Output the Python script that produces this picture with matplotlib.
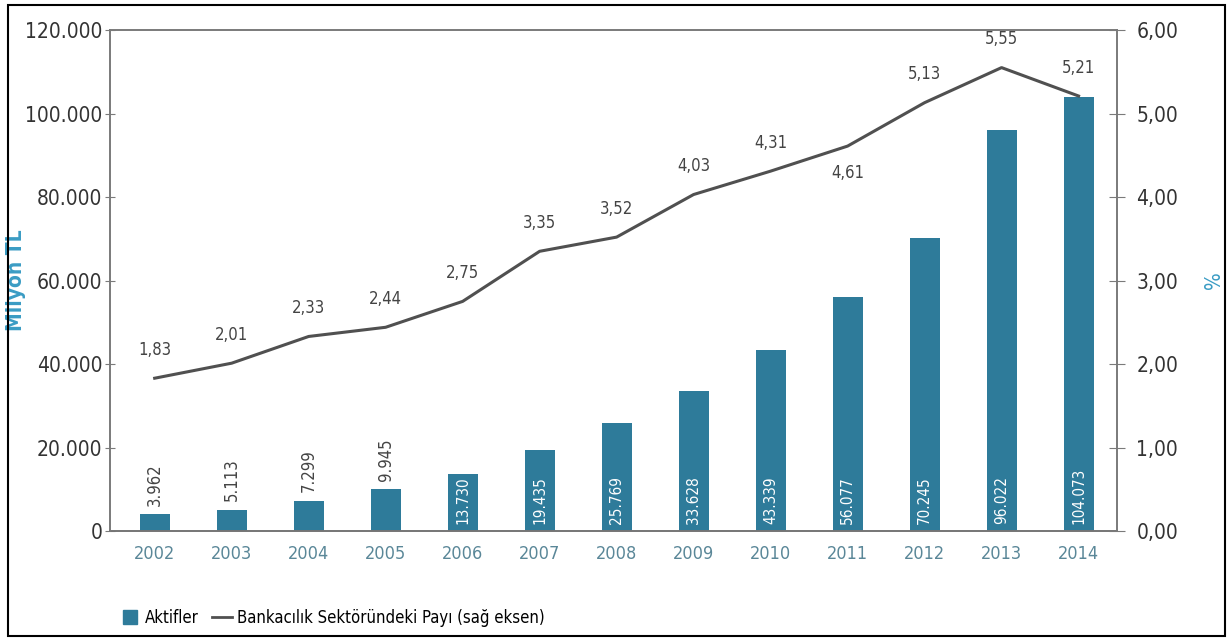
import matplotlib.pyplot as plt
from matplotlib.patches import Rectangle
from matplotlib.lines import Line2D
from matplotlib.ticker import FuncFormatter

# Aktifler (milyon TL) ve bankacılık sektöründeki payı (%)
YEARS = ['2002', '2003', '2004', '2005', '2006', '2007', '2008',
         '2009', '2010', '2011', '2012', '2013', '2014']
ASSETS = [3962, 5113, 7299, 9945, 13730, 19435, 25769,
          33628, 43339, 56077, 70245, 96022, 104073]
SHARE = [1.83, 2.01, 2.33, 2.44, 2.75, 3.35, 3.52,
         4.03, 4.31, 4.61, 5.13, 5.55, 5.21]

BAR_COLOR = '#2e7b9a'
LINE_COLOR = '#505050'
AXIS_COLOR = '#7a7a7a'
LABEL_BLUE = '#3a9cc4'
YEAR_COLOR = '#5a8798'

plt.rcParams['font.family'] = ['DejaVu Sans']
plt.rcParams['font.stretch'] = 'condensed'


def tr_thousands(v, pos=None):
    # 120000 -> 120.000
    return f"{int(v):,}".replace(',', '.')


def tr_decimal(v, pos=None):
    return f"{v:.2f}".replace('.', ',')


fig = plt.figure(figsize=(12.32, 6.39), dpi=100)
ax = fig.add_axes([0.0893, 0.169, 0.8174, 0.784])
ax2 = ax.twinx()

x = list(range(len(YEARS)))
ax.bar(x, ASSETS, width=0.39, color=BAR_COLOR, zorder=2)

ax.set_xlim(-0.58, 12.5)
ax.set_ylim(0, 120000)
ax.set_yticks(range(0, 120001, 20000))
ax.yaxis.set_major_formatter(FuncFormatter(tr_thousands))
ax.set_xticks(x)
ax.set_xticklabels(YEARS)

ax2.set_ylim(0, 6)
ax2.set_yticks([0, 1, 2, 3, 4, 5, 6])
ax2.yaxis.set_major_formatter(FuncFormatter(tr_decimal))

for a in (ax, ax2):
    for s in a.spines.values():
        s.set_color(AXIS_COLOR)
        s.set_linewidth(1.2)
ax.spines['bottom'].set_color('#555555')

ax.tick_params(axis='y', direction='inout', length=7, color=AXIS_COLOR,
               labelsize=15, labelcolor='#333333', pad=2)
ax2.tick_params(axis='y', direction='inout', length=12, color=AXIS_COLOR,
                labelsize=15, labelcolor='#333333', pad=8)
ax.tick_params(axis='x', length=0, labelsize=13, labelcolor=YEAR_COLOR, pad=10)

ax.set_ylabel('Milyon TL', color=LABEL_BLUE, fontsize=15, fontweight='bold')
ax.yaxis.set_label_coords(-0.083, 0.5)
ax2.set_ylabel('%', color=LABEL_BLUE, fontsize=15)
ax2.yaxis.set_label_coords(1.086, 0.5)

# Sektör payı çizgisi
ax2.plot(x, SHARE, color=LINE_COLOR, linewidth=2.2, zorder=3)
for xi, v in zip(x, SHARE):
    dy = -26 if YEARS[xi] == '2011' else 14
    ax2.annotate(tr_decimal(v), (xi, v), xytext=(0, dy),
                 textcoords='offset points', ha='center', va='bottom',
                 fontsize=12, color='#444444')

# Sütun değerleri: küçük sütunlarda üstte, diğerlerinde sütun içinde
for xi, v in zip(x, ASSETS):
    label = tr_thousands(v)
    if v < 12000:
        ax.annotate(label, (xi, v), xytext=(0, 6), textcoords='offset points',
                    ha='center', va='bottom', rotation=90,
                    fontsize=12, color='#444444')
    else:
        ax.annotate(label, (xi, 0), xytext=(0, 5), textcoords='offset points',
                    ha='center', va='bottom', rotation=90,
                    fontsize=11, color='white')

# Açıklama
handles = [
    Line2D([], [], marker='s', linestyle='none', markersize=10,
           markerfacecolor=BAR_COLOR, markeredgecolor=BAR_COLOR),
    Line2D([], [], color=LINE_COLOR, linewidth=2),
]
fig.legend(handles, ['Aktifler', 'Bankacılık Sektöründeki Payı (sağ eksen)'],
           loc='lower left', bbox_to_anchor=(0.085, -0.005), ncol=2, frameon=False,
           fontsize=12, handlelength=1.2, handletextpad=0.3, columnspacing=0.8)

# Dış çerçeve
fig.patches.append(Rectangle((0.0065, 0.005), 0.988, 0.987, transform=fig.transFigure,
                             fill=False, edgecolor='black', linewidth=1.5))

fig.savefig('out.png', dpi=100)
